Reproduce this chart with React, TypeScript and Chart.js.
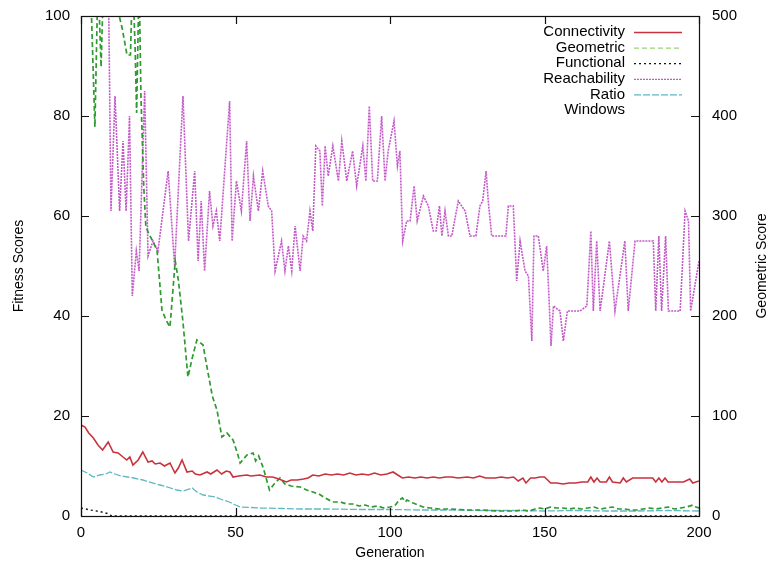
import React, { useEffect, useRef } from "react";
import { Chart, registerables } from "chart.js";

Chart.register(...registerables);

const FONT = "'Liberation Sans', Arial, Helvetica, sans-serif";

const xTickValues = [0, 50, 100, 150, 200];
const leftTickValues = [0, 20, 40, 60, 80, 100];
const rightTickValues = [0, 100, 200, 300, 400, 500];

const seriesLabels = ["Connectivity", "Geometric", "Functional", "Reachability", "Ratio", "Windows"];

// [generation, value]
const connectivity: [number, number][] = [
  [0, 18.2], [1.3, 17.8], [2.5, 16.6], [4, 15.6], [5.5, 14.2], [7, 13.2], [8.8, 14.8], [10.4, 12.8],
  [12, 12.6], [13.6, 11.8], [14.8, 11.2], [15.8, 11.8], [16.8, 10.2], [18.5, 11.2], [20, 12.8],
  [21.7, 10.8], [23, 11.0], [24, 10.4], [25.6, 10.6], [27, 10.0], [28.8, 10.6], [30.4, 8.6],
  [31.5, 9.6], [32.7, 11.2], [34.3, 8.8], [36, 9.0], [37, 8.4], [38.5, 8.2], [40.8, 8.8], [42, 8.4],
  [44, 9.2], [45.5, 8.4], [47, 9.0], [48.2, 8.8], [49.2, 7.8], [51, 8.0], [53.7, 8.2], [55, 8.0],
  [57.9, 8.2], [60, 7.8], [62, 7.8], [64, 7.4], [66.5, 6.8], [68, 7.2], [70, 7.2], [72, 7.4],
  [73.5, 7.6], [75, 8.2], [77, 8.0], [79, 8.4], [81, 8.2], [83, 8.4], [85, 8.2], [87, 8.6],
  [89, 8.2], [91, 8.4], [93, 8.2], [95, 8.6], [97, 8.2], [99, 8.4], [101, 8.8], [102.5, 8.2],
  [104, 7.6], [106, 7.8], [108, 7.6], [110, 7.8], [112, 7.6], [114, 7.8], [116, 7.6], [118, 7.8],
  [120, 7.8], [122, 7.6], [125, 7.8], [127, 7.6], [129, 8.0], [131, 7.6], [134, 7.6], [136, 7.8],
  [138, 7.6], [140, 7.8], [141.5, 7.0], [143, 7.6], [144, 6.6], [145.5, 7.6], [147, 7.6],
  [148.5, 7.8], [150, 7.8], [152, 6.6], [154, 6.6], [156, 6.4], [158, 6.6], [160, 6.6], [162, 6.8],
  [164, 6.8], [165, 7.8], [166, 6.8], [167, 7.6], [168, 6.8], [170, 6.8], [171, 7.8], [172, 6.8],
  [174.5, 6.6], [175.5, 7.6], [176.5, 6.8], [178.5, 7.6], [183, 7.6], [185, 7.6], [186, 6.8],
  [187, 7.6], [188, 6.8], [189, 7.6], [190, 6.8], [195, 6.8], [197, 7.4], [198, 6.6], [200, 7.0],
];

// right axis (Geometric Score)
const geometric: [number, number][] = [
  [0, 560], [3, 540], [4.5, 389], [5.5, 540], [6.5, 449], [7.5, 560], [11.5, 560], [12, 505],
  [13.3, 488], [14.9, 461], [16, 461], [16.7, 540], [17.5, 470], [18, 403], [18.8, 540],
  [19.4, 420], [20.3, 330], [21, 289], [22, 282], [23, 276], [24.6, 266], [26.2, 206],
  [27.5, 196], [28.8, 189], [30.5, 255], [31.5, 236], [33, 194], [34.6, 139], [36, 158],
  [37.5, 176], [39.5, 171], [41, 145], [42.5, 120], [44, 106], [45.6, 79], [47.2, 83], [49.2, 76],
  [50.5, 64], [51.5, 53], [53.7, 61], [55.7, 63], [56.5, 55], [57.5, 60], [59, 48], [61, 26],
  [62.5, 32], [64.4, 38], [66, 32], [68, 30], [71, 29], [73, 26], [75, 24], [77, 22], [79, 18],
  [81.5, 14], [84, 14], [86, 12], [88, 12], [90, 10], [92, 11], [94, 9], [96, 10], [98, 8],
  [100, 9], [101.5, 10], [103, 16], [104, 18], [105, 14], [105.5, 16], [107.5, 13], [110.7, 9],
  [113, 8], [116, 7], [120, 7], [125, 6], [130, 6], [135, 5], [140, 5], [143, 6], [145, 5],
  [147, 7], [148.5, 8], [150, 7], [152, 9], [154, 8], [156, 8], [158, 7], [160, 8], [162, 7],
  [164, 8], [166, 9], [168, 7], [170, 8], [172, 9], [174, 7], [176, 7], [178, 6], [180, 6],
  [182, 7], [184, 8], [186, 7], [188, 8], [190, 9], [192, 7], [194, 8], [196, 9], [198, 11],
  [199, 9], [200, 8],
];

const functional: [number, number][] = [
  [0, 1.6], [3, 1.2], [6, 0.9], [8.5, 0.5], [10, 0], [200, 0],
];

const reachability: [number, number][] = [
  [0, 100], [9, 100], [9.7, 61], [11, 84], [12.5, 61], [13.6, 75], [14.6, 61], [15.7, 80],
  [16.6, 44], [17.9, 53], [18.8, 49], [20.6, 85], [21.7, 52], [23.3, 55], [24.9, 53], [28.2, 69],
  [30.3, 50], [33, 84], [34.8, 55], [36.8, 69], [37.9, 51], [38.9, 63], [40, 49], [41.6, 65],
  [42.7, 58], [43.8, 61], [44.9, 55], [48.1, 83], [48.9, 55], [50.3, 67], [51.9, 61], [53.6, 75],
  [54.7, 59], [55.8, 68], [57.4, 61], [58.8, 69], [60.6, 62], [61.7, 61], [62.8, 49], [64.9, 55],
  [66, 49], [67.1, 54], [68.2, 49], [69.3, 58], [70.9, 49], [71.9, 56], [73, 55], [74.1, 61],
  [75, 57], [76, 74], [77.3, 73], [78.1, 62], [79, 74], [80, 68], [81.5, 74], [83.3, 67],
  [84.4, 75], [86, 67], [87.9, 73], [89.2, 66], [91.2, 74], [92.2, 67], [93.3, 82], [94.4, 67],
  [95.9, 67], [97.3, 80], [98.4, 67], [99.4, 73], [101.3, 79], [102.4, 70], [103.2, 73],
  [104.1, 55], [105.4, 59], [106.5, 59], [107.8, 66], [108.8, 59], [110.8, 64], [112.4, 62],
  [114, 57], [114.9, 57], [116, 62], [116.8, 56], [117.8, 61], [118.9, 56], [120, 56], [122.1, 63],
  [124.3, 61], [125.9, 56], [127.8, 56], [129.1, 62], [130, 63], [131.1, 69], [131.8, 63],
  [132.9, 56], [135.6, 56], [136.6, 56], [137.5, 56], [138.3, 62], [139.9, 62], [141, 47],
  [142.1, 55], [143.7, 49], [144.8, 48], [145.9, 35], [146.6, 56], [148, 56], [149.6, 49],
  [150.7, 54], [151.5, 43], [152.1, 34], [152.9, 42], [155, 41], [156.1, 35], [157.4, 41],
  [161.5, 41], [163.7, 42], [165, 57], [165.8, 41], [166.9, 55], [168, 41], [171, 55], [172.8, 41],
  [176, 55], [177.1, 41], [179.3, 55], [182, 55], [185.2, 55], [186, 41], [187, 56], [187.9, 41],
  [189.2, 56], [190.1, 41], [193.9, 41], [195.5, 61], [196.6, 59], [197.3, 41], [200, 51],
];

const ratio: [number, number][] = [
  [0, 9.2], [2, 8.6], [4, 7.8], [6, 8.2], [8, 8.4], [9.4, 8.8], [11, 8.4], [13, 8.0], [15, 7.8],
  [17, 7.6], [20, 7.2], [22, 6.8], [25.6, 6.2], [28, 5.8], [31, 5.2], [33, 5.0], [36, 5.6],
  [37.5, 4.8], [39.5, 4.2], [43.4, 3.8], [46, 3.2], [48, 2.8], [50, 2.2], [51.5, 1.8], [55, 1.7],
  [58, 1.6], [65, 1.5], [71, 1.4], [80, 1.4], [90, 1.3], [100, 1.3], [110, 1.2], [120, 1.2],
  [130, 1.1], [140, 1.1], [150, 1.0], [160, 1.1], [170, 1.0], [180, 1.0], [190, 1.1], [200, 1.0],
];

const windows: [number, number][] = [];

const toPts = (a: [number, number][]) => a.map(([x, y]) => ({ x, y }));

const frameAndLegend = {
  id: "frameAndLegend",
  afterDraw(chart: any) {
    const { ctx, chartArea, scales } = chart;
    const { left, right, top, bottom } = chartArea;
    ctx.save();
    ctx.strokeStyle = "#111";
    ctx.lineWidth = 1.2;
    ctx.setLineDash([]);
    ctx.strokeRect(left + 0.5, top + 0.5, right - left, bottom - top);
    const tl = 8;
    ctx.beginPath();
    xTickValues.forEach((v) => {
      const px = Math.round(scales.x.getPixelForValue(v)) + 0.5;
      ctx.moveTo(px, bottom); ctx.lineTo(px, bottom - tl);
      ctx.moveTo(px, top); ctx.lineTo(px, top + tl);
    });
    leftTickValues.forEach((v) => {
      const py = Math.round(scales.y.getPixelForValue(v)) + 0.5;
      ctx.moveTo(left, py); ctx.lineTo(left + tl, py);
    });
    rightTickValues.forEach((v) => {
      const py = Math.round(scales.y1.getPixelForValue(v)) + 0.5;
      ctx.moveTo(right, py); ctx.lineTo(right - tl, py);
    });
    ctx.stroke();

    // right axis title (rotated like gnuplot)
    ctx.fillStyle = "#000";
    ctx.font = `14px ${FONT}`;
    ctx.textAlign = "center";
    ctx.textBaseline = "middle";
    ctx.save();
    ctx.translate(762, (top + bottom) / 2);
    ctx.rotate(-Math.PI / 2);
    ctx.fillText("Geometric Score", 0, 0);
    ctx.restore();

    // legend
    ctx.font = `15px ${FONT}`;
    ctx.textAlign = "right";
    chart.data.datasets.forEach((ds: any, i: number) => {
      const y = 32 + i * 15.6;
      ctx.fillStyle = "#000";
      ctx.fillText(ds.label, 625, y);
      if (ds.legendLine !== false) {
        ctx.strokeStyle = ds.legendColor || ds.borderColor;
        ctx.lineWidth = 1.3;
        ctx.setLineDash(ds.borderDash || []);
        ctx.beginPath();
        ctx.moveTo(634, y + 0.5);
        ctx.lineTo(682, y + 0.5);
        ctx.stroke();
      }
    });
    ctx.restore();
  },
};

const zeroPad = (s: any) => {
  s.paddingTop = 0;
  s.paddingBottom = 0;
  s.paddingLeft = 0;
  s.paddingRight = 0;
};

export default function App() {
  const ref = useRef<HTMLCanvasElement>(null);
  useEffect(() => {
    if (!ref.current) return;
    const common = { pointRadius: 0, fill: false, tension: 0, spanGaps: true };
    const chart = new Chart(ref.current, {
      type: "line",
      data: {
        datasets: [
          { ...common, label: seriesLabels[0], data: toPts(connectivity), yAxisID: "y", borderColor: "#c8323c", borderWidth: 1.6 },
          { ...common, label: seriesLabels[1], data: toPts(geometric), yAxisID: "y1", borderColor: "#2f9a2f", borderWidth: 1.7, borderDash: [5, 3], legendColor: "#9ccf7a" },
          { ...common, label: seriesLabels[2], data: toPts(functional), yAxisID: "y", borderColor: "#111", borderWidth: 1.4, borderDash: [2, 3] },
          { ...common, label: seriesLabels[3], data: toPts(reachability), yAxisID: "y", borderColor: "#c35ac8", borderWidth: 1.6, borderDash: [2, 1] },
          { ...common, label: seriesLabels[4], data: toPts(ratio), yAxisID: "y", borderColor: "#5fb8c2", borderWidth: 1.3, borderDash: [7, 2] },
          { ...common, label: seriesLabels[5], data: toPts(windows), yAxisID: "y", borderColor: "rgba(0,0,0,0)", borderWidth: 0, legendLine: false },
        ] as any,
      },
      options: {
        responsive: false,
        animation: false,
        events: [],
        layout: { padding: { top: 16, left: 0, right: 0, bottom: 0 } },
        plugins: { legend: { display: false }, tooltip: { enabled: false }, title: { display: false } },
        scales: {
          x: {
            type: "linear",
            position: "bottom",
            min: 0,
            max: 200,
            afterBuildTicks: (s: any) => { s.ticks = xTickValues.map((v) => ({ value: v })); },
            afterFit: (s: any) => { s.height = 51; zeroPad(s); },
            ticks: { padding: 8, color: "#000", font: { family: FONT, size: 15 }, maxRotation: 0 },
            grid: { display: false, drawTicks: false },
            border: { display: false },
            title: { display: true, text: "Generation", color: "#000", font: { family: FONT, size: 14 }, padding: { top: 0, bottom: 5 } },
          },
          y: {
            type: "linear",
            position: "left",
            min: 0,
            max: 100,
            afterBuildTicks: (s: any) => { s.ticks = leftTickValues.map((v) => ({ value: v })); },
            afterFit: (s: any) => { s.width = 81; zeroPad(s); },
            ticks: { padding: 11, color: "#000", font: { family: FONT, size: 15 } },
            grid: { display: false, drawTicks: false },
            border: { display: false },
            title: { display: true, text: "Fitness Scores", color: "#000", font: { family: FONT, size: 14 }, padding: { top: 11, bottom: 0 } },
          },
          y1: {
            type: "linear",
            position: "right",
            min: 0,
            max: 500,
            afterBuildTicks: (s: any) => { s.ticks = rightTickValues.map((v) => ({ value: v })); },
            afterFit: (s: any) => { s.width = 73; zeroPad(s); },
            ticks: { padding: 13, color: "#000", font: { family: FONT, size: 15 } },
            grid: { display: false, drawTicks: false },
            border: { display: false },
          },
        },
      } as any,
      plugins: [frameAndLegend],
    });
    return () => chart.destroy();
  }, []);
  return (
    <div style={{ position: "absolute", left: 0, top: 0, width: 772, height: 567, background: "#fff" }}>
      <canvas ref={ref} width={772} height={567} style={{ display: "block", width: 772, height: 567 }} />
    </div>
  );
}
